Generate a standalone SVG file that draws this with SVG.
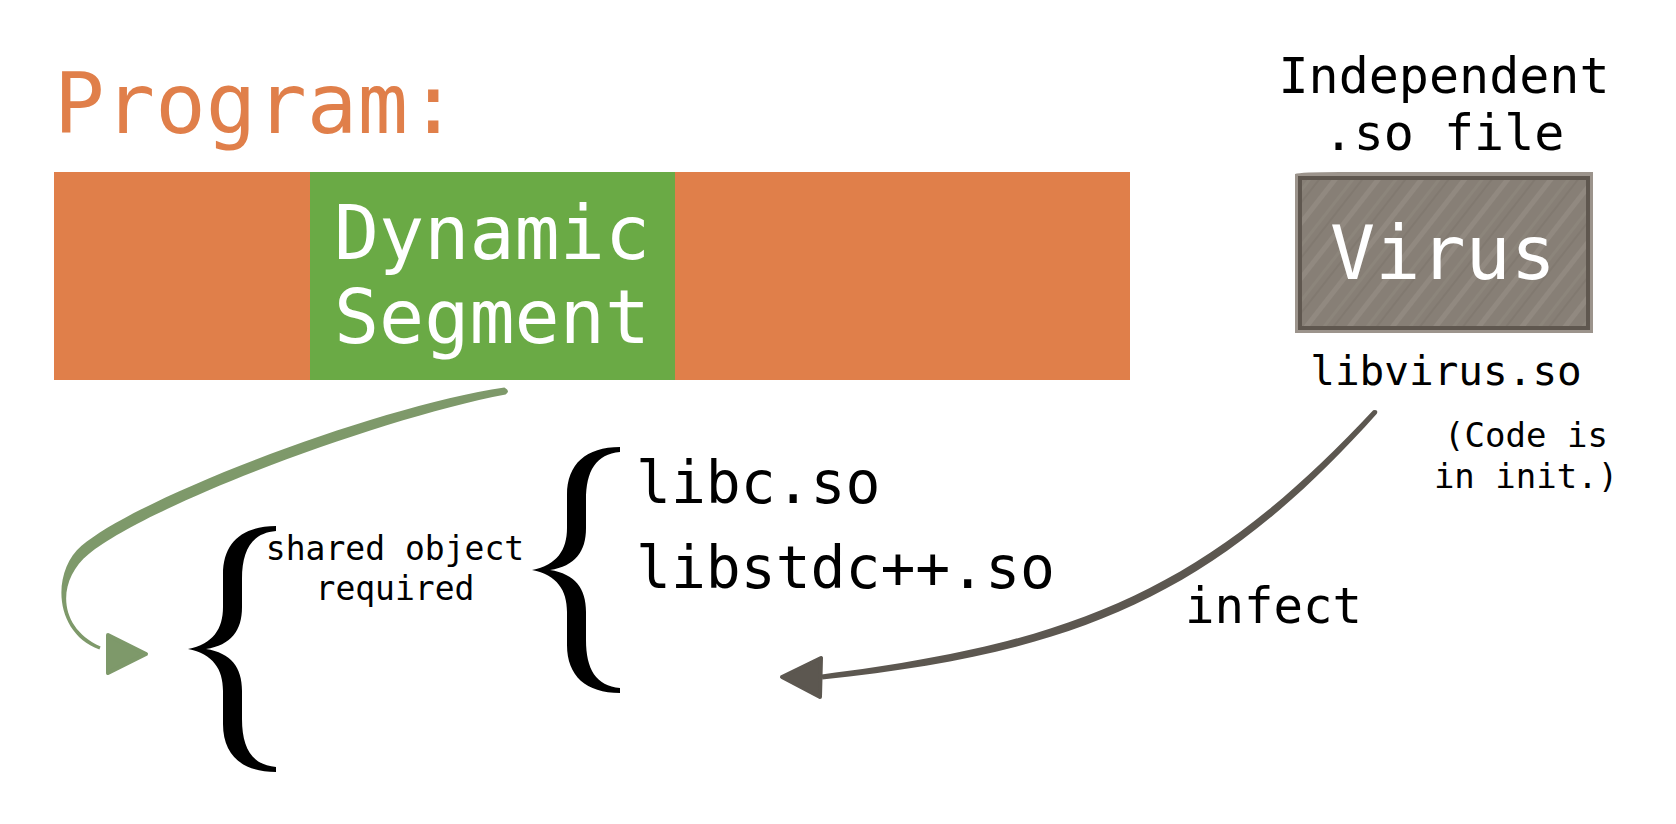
<svg xmlns="http://www.w3.org/2000/svg" width="1676" height="824" viewBox="0 0 1676 824">
  <style>
    .mono { font-family: "DejaVu Sans Mono", "Liberation Mono", monospace; }
    .ink { fill: #000000; }
    .white { fill: #ffffff; }
    .orange { fill: #E07F4A; }
    .green { fill: #6AAA45; }
    .brace { fill: #000000; }
  </style>
  <defs>
    <pattern id="streaks" patternUnits="userSpaceOnUse" width="34" height="34" patternTransform="rotate(-52)">
      <rect x="0" y="0" width="34" height="34" fill="#877F76"/>
      <rect x="0" y="4" width="34" height="5" fill="#A39B92" opacity="0.35"/>
      <rect x="0" y="19" width="34" height="3" fill="#9A928A" opacity="0.3"/>
      <rect x="0" y="27" width="34" height="2" fill="#746C64" opacity="0.3"/>
    </pattern>
    <path id="bracePath" d="M 620 447 L 620 452 C 596 454, 586 471, 586 500 L 586 528 C 586 552, 575 566, 550 570 C 575 574, 586 588, 586 612 L 586 640 C 586 669, 596 686, 620 688 L 620 693 C 586 693, 567 676, 567 645 L 567 612 C 567 590, 557 575, 532 570 C 557 565, 567 550, 567 528 L 567 495 C 567 464, 586 447, 620 447 Z"/>
  </defs>

  <g id="program-label">
    <text class="mono orange" x="54" y="133" font-size="84">Program:</text>
  </g>

  <g id="program-bar">
    <rect class="orange" x="54" y="172" width="1076" height="208"/>
  </g>

  <g id="dynamic-segment">
    <rect class="green" x="310" y="172" width="365" height="208"/>
    <text class="mono white" x="492" y="259" font-size="75" text-anchor="middle">Dynamic</text>
    <text class="mono white" x="492" y="343" font-size="75" text-anchor="middle">Segment</text>
  </g>

  <g id="independent-label">
    <text class="mono ink" x="1444" y="93" font-size="50" text-anchor="middle">Independent</text>
    <text class="mono ink" x="1444" y="150" font-size="50" text-anchor="middle">.so file</text>
  </g>

  <g id="virus">
    <path d="M 1295 174 Q 1300 172, 1340 172 L 1593 172 L 1593 333 L 1295 333 Z" fill="#9C948C"/>
    <rect x="1298" y="176" width="292" height="154" fill="#5F574F"/>
    <rect x="1302" y="180" width="284" height="146" fill="url(#streaks)"/>
    <text class="mono white" x="1443" y="279" font-size="75" text-anchor="middle">Virus</text>
  </g>

  <g id="libvirus-label">
    <text class="mono ink" x="1446" y="385" font-size="41" text-anchor="middle">libvirus.so</text>
  </g>

  <g id="code-note">
    <text class="mono ink" x="1526" y="447" font-size="34" text-anchor="middle">(Code is</text>
    <text class="mono ink" x="1526" y="488" font-size="34" text-anchor="middle">in init.)</text>
  </g>

  <g id="shared-object">
    <use href="#bracePath" class="brace" transform="translate(-344 79)"/>
    <text class="mono ink" x="395" y="560" font-size="33" text-anchor="middle">shared object</text>
    <text class="mono ink" x="395" y="600" font-size="33" text-anchor="middle">required</text>
  </g>

  <g id="libraries">
    <use href="#bracePath" class="brace"/>
    <text class="mono ink" x="636" y="503" font-size="58">libc.so</text>
    <text class="mono ink" x="636" y="588" font-size="58">libstdc++.so</text>
  </g>

  <g id="connectors">
    <g id="needs-arrow">
      <path d="M 504.4 387.5 C 379 406.1, 141.2 495.4, 81.5 545.8 C 51.1 571.8, 53.7 633.2, 99.4 649.4 L 100.6 646.6 C 56.3 626.8, 57.5 579.4, 88.5 554.2 C 148.8 504.6, 381 417.9, 505.6 394.5 Q 511 391, 504.4 387.5 Z" fill="#7E996A"/>
      <path d="M 108 635 L 146 654 L 108 673 Z" fill="#7E996A" stroke="#7E996A" stroke-width="4" stroke-linejoin="round"/>
    </g>
    <g id="infect-arrow">
      <path d="M 1373.2 410.3 C 1202.8 593.4, 1069.4 643, 821.7 674.5 L 822.3 679.5 C 1070.6 653, 1210.2 600.2, 1376.8 413.7 Q 1378.8 409.3, 1373.2 410.3 Z" fill="#5C5750"/>
      <path d="M 782 677 L 821 658 L 820 697 Z" fill="#5C5750" stroke="#5C5750" stroke-width="4" stroke-linejoin="round"/>
    </g>
    <text class="mono ink" x="1185" y="623" font-size="49">infect</text>
  </g>
</svg>
